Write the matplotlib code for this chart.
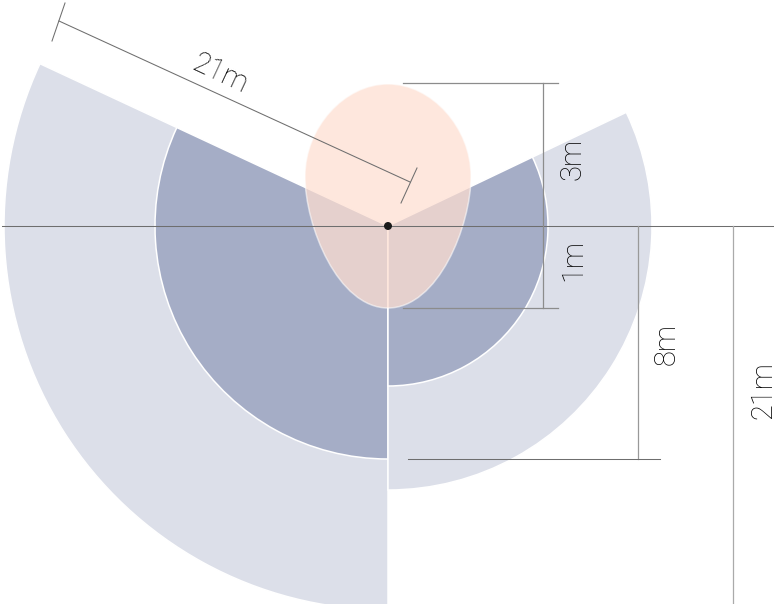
import numpy as np
import matplotlib
matplotlib.use("Agg")
import matplotlib.pyplot as plt
from matplotlib.patches import Wedge, PathPatch, Circle
from matplotlib.path import Path

# drawing is a schematic, so the sizes are read as pixels from the sensor dot
leftRadii = [384, 233]
rightRadii = [264, 160]
sectorColors = ['#dcdfe9', '#a5adc6']
leftAngles = [155, 270]
rightAngles = [-90, 25.5]

# egg shape, right side only (x, height) as bezier points, mirrored below
petalTop = 142
petalBottom = -82
petalWidth = 83
petalWaist = 50

labels = ['21m', '3m', '1m', '8m', '21m']
labelX = [-168, 185, 185, 279, 375]
labelY = [152, 67, -34, -118, -164]
labelRot = [-25, 90, 90, 90, 90]

lineGray = '#6e6e6e'

fig = plt.figure(figsize=(7.74, 6.04), dpi=100)
ax = fig.add_axes([0, 0, 1, 1])
ax.set_xlim(-388, 386)
ax.set_ylim(-378, 226)
ax.axis('off')

# sectors
for r, c in zip(leftRadii, sectorColors):
    ax.add_patch(Wedge((0, 0), r, leftAngles[0], leftAngles[1], fc=c, ec='white', lw=1.1))
for r, c in zip(rightRadii, sectorColors):
    ax.add_patch(Wedge((0, 0), r, rightAngles[0], rightAngles[1], fc=c, ec='white', lw=1.1))

# detection petal
verts = [(0, petalTop),
         (44, petalTop), (petalWidth, 98), (petalWidth, petalWaist),
         (petalWidth, 0), (50, petalBottom), (0, petalBottom),
         (-50, petalBottom), (-petalWidth, 0), (-petalWidth, petalWaist),
         (-petalWidth, 98), (-44, petalTop), (0, petalTop)]
codes = [Path.MOVETO] + [Path.CURVE4] * 12
ax.add_patch(PathPatch(Path(verts, codes), fc=(254/255, 222/255, 208/255, 0.72),
                       ec=(1, 1, 1, 0.55), lw=1.1, zorder=3))

# dimension lines
ax.plot([-386, 386], [0, 0], color=lineGray, lw=0.75, zorder=4)
ax.plot([15, 170], [petalTop + 1, petalTop + 1], color='#8c8c8c', lw=0.9, zorder=4)
ax.plot([15, 170], [petalBottom, petalBottom], color='#8c8c8c', lw=0.9, zorder=4)
ax.plot([155, 155], [petalTop + 1, petalBottom], color='#8c8c8c', lw=0.9, zorder=4)
ax.plot([250, 250], [0, -leftRadii[1]], color='#999999', lw=0.9, zorder=4)
ax.plot([20, 272], [-leftRadii[1], -leftRadii[1]], color=lineGray, lw=0.75, zorder=4)
ax.plot([345, 345], [0, -378], color='#aaaaaa', lw=0.9, zorder=4)

# slanted 21m line and its end ticks
ax.plot([-329, 22], [205, 44], color=lineGray, lw=0.75, zorder=4)
ax.plot([-336, -323], [185, 223], color=lineGray, lw=0.75, zorder=4)
ax.plot([13, 29], [23, 58], color=lineGray, lw=0.75, zorder=4)

ax.add_patch(Circle((0, 0), 4, fc='#1a1a1a', ec='none', zorder=5))

for t, x, y, rot in zip(labels, labelX, labelY, labelRot):
    ax.text(x, y, t, rotation=rot, rotation_mode='anchor', ha='center', va='center',
            fontsize=21, family='Roboto', weight='light', color='black', zorder=6)

plt.savefig('out.png', dpi=100)
